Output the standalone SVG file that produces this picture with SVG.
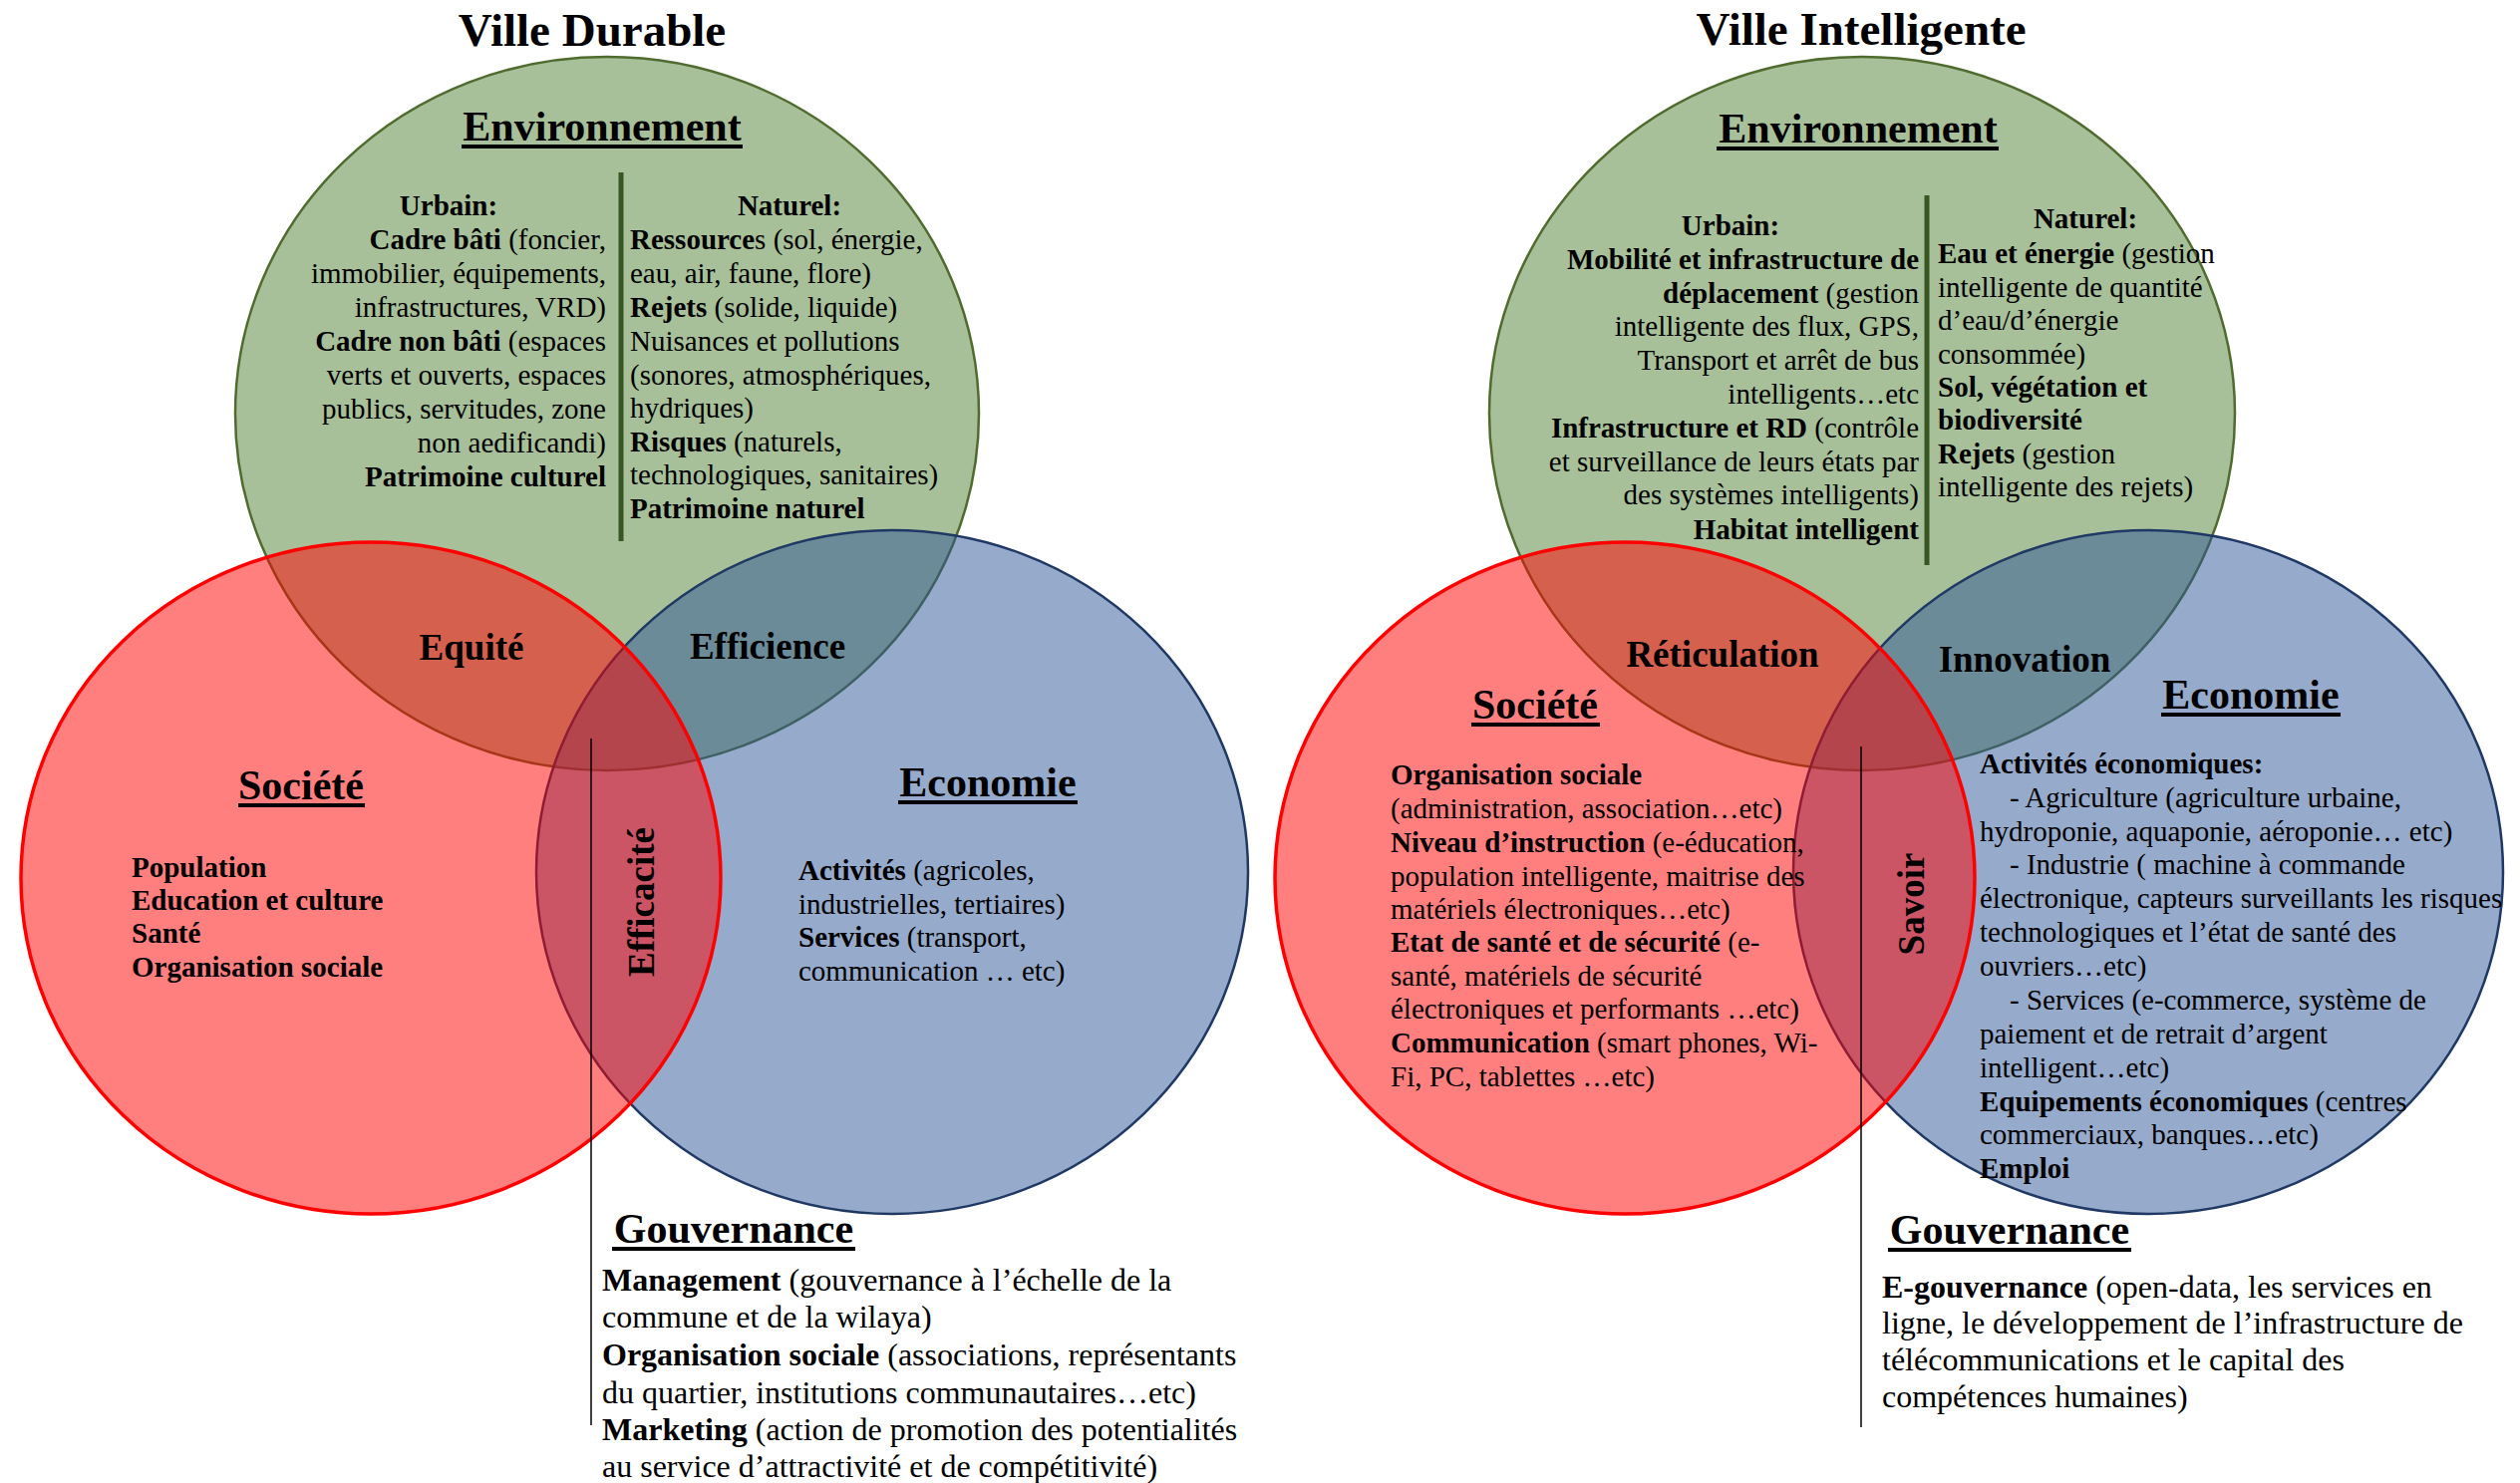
<svg xmlns="http://www.w3.org/2000/svg" width="2528" height="1488" viewBox="0 0 2528 1488">
<style>
text { font-family: "Liberation Serif", "Times New Roman", serif; fill: #000; }
.title { font-size: 47px; font-weight: bold; text-anchor: middle; }
.head { font-size: 42px; font-weight: bold; text-anchor: middle; }
.inter { font-size: 37px; font-weight: bold; text-anchor: middle; }
.body { font-size: 29px; }
.gov { font-size: 32px; }
.end { text-anchor: end; }
.mid { text-anchor: middle; }
.b { font-weight: bold; }
.green { fill: #A8C09A; stroke: #4F6B2E; stroke-width: 2.5; }
.blue { fill: #2D5597; fill-opacity: 0.5; stroke: #1F3864; stroke-width: 2.5; }
.red { fill: #FF0000; fill-opacity: 0.5; stroke: #FF0000; stroke-width: 3.5; }
.sep { stroke: #375623; stroke-width: 5; }
.conn { stroke: #000; stroke-width: 1.5; fill: none; }
.ul { fill: #000; }
</style>
<rect x="0" y="0" width="2528" height="1488" fill="#FFFFFF"/>

<!-- ===== VILLE DURABLE ===== -->
<g id="durable-title"><text class="title" x="594" y="46">Ville Durable</text></g>

<g id="durable-environnement">
<ellipse class="green" cx="609" cy="415" rx="373" ry="358"/>
<text class="head" x="604" y="141">Environnement</text>
<rect class="ul" x="463" y="145" width="282" height="4"/>
<line class="sep" x1="623" y1="173" x2="623" y2="543"/>
<text class="body b mid" x="450" y="216">Urbain:</text>
<text class="body end" x="608" y="250"><tspan class="b">Cadre bâti</tspan> (foncier,</text>
<text class="body end" x="608" y="284">immobilier, équipements,</text>
<text class="body end" x="608" y="318">infrastructures, VRD)</text>
<text class="body end" x="608" y="352"><tspan class="b">Cadre non bâti</tspan> (espaces</text>
<text class="body end" x="608" y="386">verts et ouverts, espaces</text>
<text class="body end" x="608" y="420">publics, servitudes, zone</text>
<text class="body end" x="608" y="454">non aedificandi)</text>
<text class="body end b" x="608" y="488">Patrimoine culturel</text>
<text class="body b mid" x="792" y="216">Naturel:</text>
<text class="body" x="632" y="250"><tspan class="b">Ressource</tspan>s (sol, énergie,</text>
<text class="body" x="632" y="284">eau, air, faune, flore)</text>
<text class="body" x="632" y="318"><tspan class="b">Rejets</tspan> (solide, liquide)</text>
<text class="body" x="632" y="352">Nuisances et pollutions</text>
<text class="body" x="632" y="386">(sonores, atmosphériques,</text>
<text class="body" x="632" y="419">hydriques)</text>
<text class="body" x="632" y="453"><tspan class="b">Risques</tspan> (naturels,</text>
<text class="body" x="632" y="486">technologiques, sanitaires)</text>
<text class="body b" x="632" y="520">Patrimoine naturel</text>
</g>

<g id="durable-economie">
<ellipse class="blue" cx="895" cy="875" rx="357" ry="343"/>
<text class="head" x="991" y="799">Economie</text>
<rect class="ul" x="901" y="803" width="180" height="4"/>
<text class="body" x="801" y="883"><tspan class="b">Activités</tspan> (agricoles,</text>
<text class="body" x="801" y="917">industrielles, tertiaires)</text>
<text class="body" x="801" y="950"><tspan class="b">Services</tspan> (transport,</text>
<text class="body" x="801" y="984">communication … etc)</text>
</g>

<g id="durable-societe">
<ellipse class="red" cx="372" cy="881" rx="351" ry="337"/>
<text class="head" x="302" y="802">Société</text>
<rect class="ul" x="239" y="806" width="127" height="4"/>
<text class="body b" x="132" y="880">Population</text>
<text class="body b" x="132" y="913">Education et culture</text>
<text class="body b" x="132" y="946">Santé</text>
<text class="body b" x="132" y="980">Organisation sociale</text>
</g>

<g id="durable-equite"><text class="inter" x="473" y="662">Equité</text></g>
<g id="durable-efficience"><text class="inter" x="770" y="661">Efficience</text></g>
<g id="durable-efficacite"><text class="inter" transform="translate(656,905) rotate(-90)">Efficacité</text></g>

<g id="durable-gouvernance">
<text class="head" x="736" y="1247">Gouvernance</text>
<rect class="ul" x="614" y="1251" width="244" height="4"/>
<text class="gov" x="604" y="1295"><tspan class="b">Management</tspan> (gouvernance à l’échelle de la</text>
<text class="gov" x="604" y="1332">commune et de la wilaya)</text>
<text class="gov" x="604" y="1370"><tspan class="b">Organisation sociale</tspan> (associations, représentants</text>
<text class="gov" x="604" y="1408">du quartier, institutions communautaires…etc)</text>
<text class="gov" x="604" y="1445"><tspan class="b">Marketing</tspan> (action de promotion des potentialités</text>
<text class="gov" x="604" y="1482">au service d’attractivité et de compétitivité)</text>
</g>

<!-- ===== VILLE INTELLIGENTE ===== -->
<g id="intelligente-title"><text class="title" x="1867" y="45">Ville Intelligente</text></g>

<g id="intelligente-environnement">
<ellipse class="green" cx="1868" cy="415" rx="374" ry="358"/>
<text class="head" x="1864" y="143">Environnement</text>
<rect class="ul" x="1722" y="147" width="283" height="4"/>
<line class="sep" x1="1933" y1="196" x2="1933" y2="567"/>
<text class="body b mid" x="1736" y="236">Urbain:</text>
<text class="body end b" x="1925" y="270">Mobilité et infrastructure de</text>
<text class="body end" x="1925" y="304"><tspan class="b">déplacement</tspan> (gestion</text>
<text class="body end" x="1925" y="337">intelligente des flux, GPS,</text>
<text class="body end" x="1925" y="371">Transport et arrêt de bus</text>
<text class="body end" x="1925" y="405">intelligents…etc</text>
<text class="body end" x="1925" y="439"><tspan class="b">Infrastructure et RD</tspan> (contrôle</text>
<text class="body end" x="1925" y="473">et surveillance de leurs états par</text>
<text class="body end" x="1925" y="506">des systèmes intelligents)</text>
<text class="body end b" x="1925" y="541">Habitat intelligent</text>
<text class="body b mid" x="2092" y="229">Naturel:</text>
<text class="body" x="1944" y="264"><tspan class="b">Eau et énergie</tspan> (gestion</text>
<text class="body" x="1944" y="298">intelligente de quantité</text>
<text class="body" x="1944" y="331">d’eau/d’énergie</text>
<text class="body" x="1944" y="365">consommée)</text>
<text class="body b" x="1944" y="398">Sol, végétation et</text>
<text class="body b" x="1944" y="431">biodiversité</text>
<text class="body" x="1944" y="465"><tspan class="b">Rejets</tspan> (gestion</text>
<text class="body" x="1944" y="498">intelligente des rejets)</text>
</g>

<g id="intelligente-economie">
<ellipse class="blue" cx="2155" cy="875" rx="356" ry="343"/>
<text class="head" x="2258" y="711">Economie</text>
<rect class="ul" x="2168" y="715" width="180" height="4"/>
<text class="body b" x="1986" y="776">Activités économiques:</text>
<text class="body" x="2016" y="810">- Agriculture (agriculture urbaine,</text>
<text class="body" x="1986" y="844">hydroponie, aquaponie, aéroponie… etc)</text>
<text class="body" x="2016" y="877">- Industrie ( machine à commande</text>
<text class="body" x="1986" y="911">électronique, capteurs surveillants les risques</text>
<text class="body" x="1986" y="945">technologiques et l’état de santé des</text>
<text class="body" x="1986" y="979">ouvriers…etc)</text>
<text class="body" x="2016" y="1013">- Services (e-commerce, système de</text>
<text class="body" x="1986" y="1047">paiement et de retrait d’argent</text>
<text class="body" x="1986" y="1081">intelligent…etc)</text>
<text class="body" x="1986" y="1115"><tspan class="b">Equipements économiques</tspan> (centres</text>
<text class="body" x="1986" y="1148">commerciaux, banques…etc)</text>
<text class="body b" x="1986" y="1182">Emploi</text>
</g>

<g id="intelligente-societe">
<ellipse class="red" cx="1630" cy="881" rx="351" ry="337"/>
<text class="head" x="1540" y="721">Société</text>
<rect class="ul" x="1476" y="725" width="129" height="4"/>
<text class="body b" x="1395" y="787">Organisation sociale</text>
<text class="body" x="1395" y="821">(administration, association…etc)</text>
<text class="body" x="1395" y="855"><tspan class="b">Niveau d’instruction</tspan> (e-éducation,</text>
<text class="body" x="1395" y="889">population intelligente, maitrise des</text>
<text class="body" x="1395" y="922">matériels électroniques…etc)</text>
<text class="body" x="1395" y="955"><tspan class="b">Etat de santé et de sécurité</tspan> (e-</text>
<text class="body" x="1395" y="989">santé, matériels de sécurité</text>
<text class="body" x="1395" y="1022">électroniques et performants …etc)</text>
<text class="body" x="1395" y="1056"><tspan class="b">Communication</tspan> (smart phones, Wi-</text>
<text class="body" x="1395" y="1090">Fi, PC, tablettes …etc)</text>
</g>

<g id="intelligente-reticulation"><text class="inter" x="1728" y="669">Réticulation</text></g>
<g id="intelligente-innovation"><text class="inter" x="2031" y="674">Innovation</text></g>
<g id="intelligente-savoir"><text class="inter" transform="translate(1930,907) rotate(-90)">Savoir</text></g>

<g id="intelligente-gouvernance">
<text class="head" x="2016" y="1248">Gouvernance</text>
<rect class="ul" x="1894" y="1252" width="244" height="4"/>
<text class="gov" x="1888" y="1302"><tspan class="b">E-gouvernance</tspan> (open-data, les services en</text>
<text class="gov" x="1888" y="1338">ligne, le développement de l’infrastructure de</text>
<text class="gov" x="1888" y="1375">télécommunications et le capital des</text>
<text class="gov" x="1888" y="1412">compétences humaines)</text>
</g>

<g id="connectors">
<line class="conn" x1="593" y1="741" x2="593" y2="1430"/>
<line class="conn" x1="1867" y1="749" x2="1867" y2="1432"/>
</g>
</svg>
